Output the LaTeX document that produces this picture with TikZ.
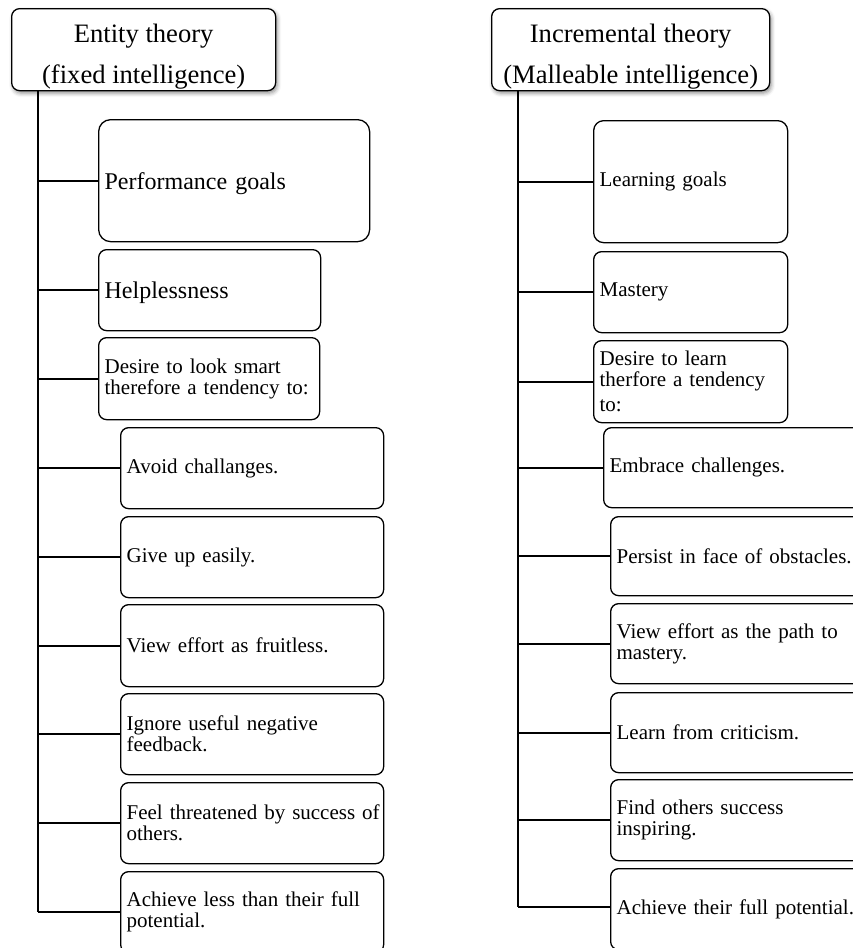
\documentclass[tikz,border=0pt]{standalone}
\usepackage{fontspec}
\setmainfont{Liberation Serif}
\usetikzlibrary{shadows.blur}
\tikzset{
  box/.style={draw, rounded corners=8pt, line width=1.3pt, anchor=north west, align=left,
    inner xsep=6pt, inner ysep=0pt, font=\fontsize{21}{21}\selectfont},
  bigbox/.style={box, font=\fontsize{24}{24}\selectfont},
  head/.style={draw, rounded corners=8pt, line width=1.3pt, anchor=north west, align=center,
    inner xsep=0pt, inner ysep=0pt, fill=white,
    font=\fontsize{26.6}{41}\selectfont,
    blur shadow={shadow xshift=1.5pt, shadow yshift=-2.5pt, shadow blur radius=4pt, shadow opacity=45}},
  trunk/.style={line width=2.6pt},
  branch/.style={line width=2pt}
}
\begin{document}
\begin{tikzpicture}[x=1pt,y=-1pt]
\useasboundingbox (0,0) rectangle (853,948);
\clip (0,0) rectangle (853,948);
% ---------- left column ----------
\node[head, minimum width=264pt, minimum height=82pt] (hL) at (11,8) {\rule{0pt}{32pt}Entity theory\\(fixed intelligence)};
\coordinate (tL) at (38,912);
\node[bigbox, rounded corners=12pt, text width=259pt, minimum height=122pt] (pg) at (98,119) {\rule{0pt}{22pt}Performance goals};
\node[bigbox, text width=210pt, minimum height=81pt] (hl) at (98,249) {\rule{0pt}{22pt}Helplessness};
\node[box, text width=209pt, minimum height=82pt] (dl) at (98,337) {\mbox{Desire to look smart}\\\mbox{therefore a tendency to:}};
\node[box, text width=251pt, minimum height=81pt] (a1) at (120,427) {Avoid challanges.};
\node[box, text width=251pt, minimum height=81pt] (a2) at (120,516) {Give up easily.};
\node[box, text width=251pt, minimum height=82pt] (a3) at (120,604) {View effort as fruitless.};
\node[box, text width=251pt, minimum height=81pt] (a4) at (120,693) {Ignore useful negative\\feedback.};
\node[box, text width=251pt, minimum height=81pt] (a5) at (120,782) {\mbox{Feel threatened by success of}\\others.};
\node[box, text width=251pt, minimum height=81pt] (a6) at (120,871) {\mbox{Achieve less than their full}\\potential.};
\draw[trunk] (hL.south -| tL) -- (tL);
\foreach \n in {pg,hl,dl,a1,a2,a3,a4,a5}
  \draw[branch] (\n.west -| tL) -- (\n.west);
\draw[branch] (tL) -- (tL -| a6.west);
% ---------- right column ----------
\node[head, minimum width=278pt, minimum height=82pt] (hR) at (491,8) {\rule{0pt}{32pt}Incremental theory\\(Malleable intelligence)};
\coordinate (tR) at (518,907);
\node[box, rounded corners=10pt, text width=182pt, minimum height=122pt] (lg) at (593,120) {Learning goals};
\node[box, text width=182pt, minimum height=81pt] (ms) at (593,251) {Mastery};
\node[box, text width=182pt, minimum height=82pt] (dr) at (593,340) {Desire to learn\\therfore a tendency\\[4pt]to:};
\node[box, text width=258pt, minimum height=80pt] (e1) at (603,427) {Embrace challenges.};
\node[box, text width=251pt, minimum height=79pt] (e2) at (610,516) {\mbox{Persist in face of obstacles.}};
\node[box, text width=251pt, minimum height=80pt] (e3) at (610,603) {View effort as the path to\\mastery.};
\node[box, text width=251pt, minimum height=80pt] (e4) at (610,692) {Learn from criticism.};
\node[box, text width=251pt, minimum height=81pt] (e5) at (610,779) {Find others success\\inspiring.};
\node[box, text width=251pt, minimum height=81pt] (e6) at (610,868) {\mbox{Achieve their full potential.}};
\draw[trunk] (hR.south -| tR) -- (tR);
\foreach \n in {lg,ms,dr,e1,e2,e3,e4,e5}
  \draw[branch] (\n.west -| tR) -- (\n.west);
\draw[branch] (tR) -- (tR -| e6.west);
\end{tikzpicture}
\end{document}
